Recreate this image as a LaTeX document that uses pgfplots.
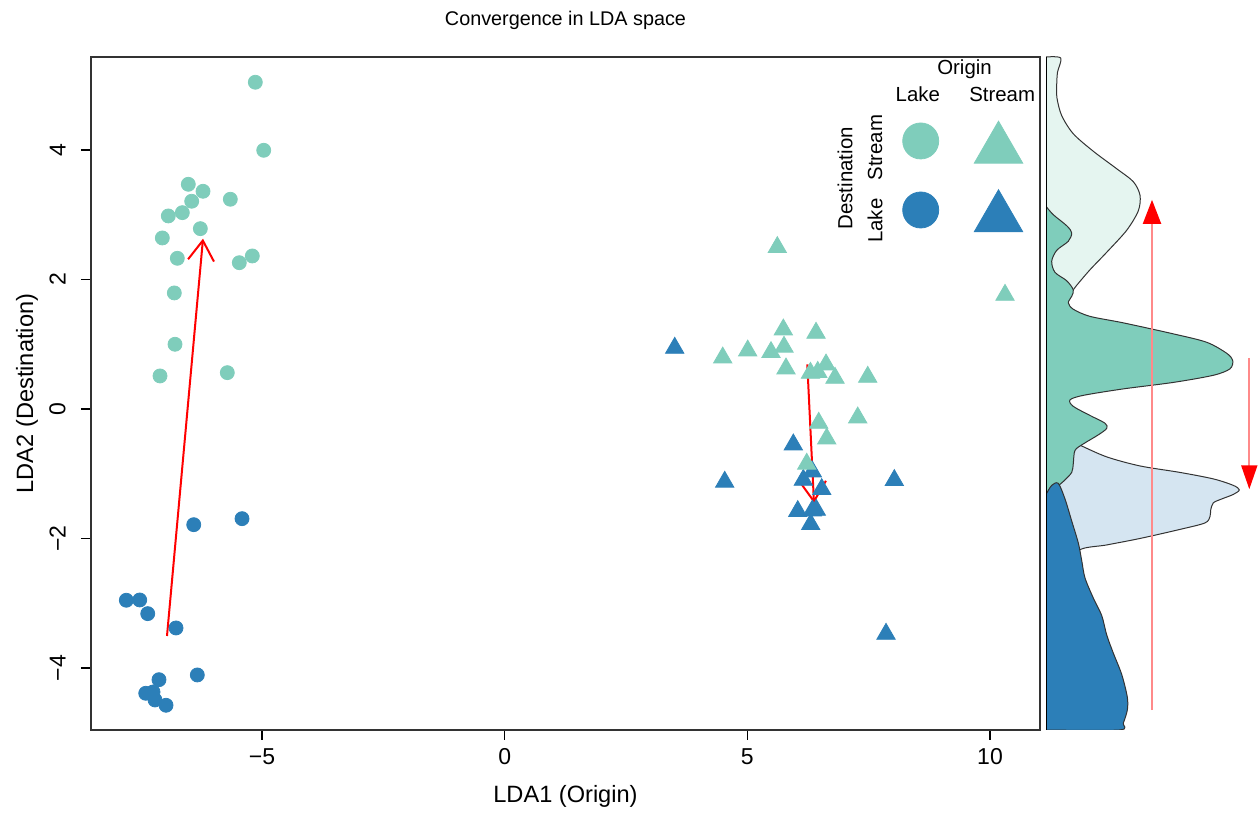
\documentclass[border=0pt]{standalone}
\usepackage{fontspec}
\setmainfont{Liberation Sans}
\usepackage{pgfplots}
\pgfplotsset{compat=1.18}
\usetikzlibrary{arrows.meta}
\definecolor{lteal}{HTML}{7FCDBB}
\definecolor{dblue}{HTML}{2C7FB8}
\definecolor{pteal}{HTML}{E5F5F0}
\definecolor{pblue}{HTML}{D5E5F1}
\definecolor{lred}{HTML}{FF8A8A}
\begin{document}
\begin{tikzpicture}
\useasboundingbox (-45.5pt,-41.5pt) rectangle (583.5pt,365pt);
\begin{axis}[
  at={(0,0)}, anchor=south west, scale only axis,
  width=474.5pt, height=336.5pt,
  xmin=-8.525, xmax=11.03, ymin=-4.958, ymax=5.436,
  xtick={-5,0,5,10}, xticklabels={−5,0,5,10},
  ytick={-4,-2,0,2,4}, yticklabels={−4,−2,0,2,4},
  tick align=outside, major tick length=5pt,
  xtick pos=bottom, ytick pos=left,
  tick style={black, line width=0.6pt},
  axis line style={line width=0.7pt, black!80},
  xticklabel style={anchor=north, inner sep=0pt, font=\fontsize{11.5}{13}\selectfont},
  yticklabel style={rotate=90, anchor=south, inner sep=0pt, font=\fontsize{11.5}{13}\selectfont},
  xticklabel shift=4.25pt, yticklabel shift=7.5pt,
  xlabel={LDA1 (Origin)}, ylabel={LDA2 (Destination)},
  xlabel style={at={(axis description cs:0.5,0)}, anchor=center, yshift=-33pt, font=\fontsize{11.8}{14}\selectfont},
  ylabel style={at={([xshift=-32pt]axis description cs:0,0.5)}, anchor=center, font=\fontsize{11.8}{14}\selectfont},
  title={Convergence in LDA space},
  title style={at={(axis description cs:0.5,1)}, anchor=center, yshift=12.5pt, font=\fontsize{9.9}{12}\selectfont},
  clip=false,
]
% Lake origin -> Stream destination (light circles)
\addplot[only marks, mark=*, mark size=3.5pt, color=lteal] coordinates {
(-5.139,5.046) (-4.966,3.995) (-6.520,3.470) (-6.217,3.362) (-6.450,3.208) (-5.654,3.239)
(-6.643,3.032) (-6.932,2.981) (-6.272,2.785) (-7.055,2.641) (-6.746,2.327) (-5.469,2.259)
(-5.201,2.363) (-6.808,1.792) (-6.794,0.999) (-7.103,0.510) (-5.716,0.561)
};
% Lake origin -> Lake destination (dark circles)
\addplot[only marks, mark=*, mark size=3.5pt, color=dblue] coordinates {
(-6.408,-1.787) (-5.413,-1.694) (-7.797,-2.954) (-7.521,-2.950) (-7.356,-3.161) (-6.773,-3.382)
(-6.334,-4.108) (-7.124,-4.181) (-7.397,-4.391) (-7.247,-4.371) (-7.206,-4.494) (-6.979,-4.576)
};
% Stream origin -> Lake destination (dark triangles)
\addplot[only marks, mark=triangle*, mark size=5.3pt, color=dblue] coordinates {
(3.503,0.942) (5.947,-0.551) (6.338,-0.968) (6.153,-1.097) (6.532,-1.240) (4.533,-1.127)
(8.028,-1.101) (6.038,-1.580) (6.338,-1.571) (6.42,-1.56) (6.305,-1.781) (7.857,-3.475)
};
% Stream origin -> Stream destination (light triangles)
\addplot[only marks, mark=triangle*, mark size=5.3pt, color=lteal] coordinates {
(5.617,2.497) (4.492,0.792) (5.007,0.900) (5.487,0.876) (5.741,1.225) (5.755,0.958)
(6.415,1.174) (5.796,0.622) (6.30,0.556) (6.45,0.57) (6.621,0.684) (6.806,0.479)
(7.480,0.494) (6.470,-0.216) (7.274,-0.134) (6.635,-0.459) (6.223,-0.849) (10.309,1.76)
};
% arrows
\addplot[red, line width=1pt, -{Straight Barb[length=10pt, width=13pt, line width=1pt]}] coordinates {(-6.959,-3.506) (-6.217,2.630)};
\addplot[red, line width=1pt, -{Straight Barb[length=10pt, width=13pt, line width=1pt]}] coordinates {(6.235,0.690) (6.373,-1.456)};
% legend
\addplot[only marks, mark=*, mark size=9pt, color=lteal] coordinates {(8.572,4.139)};
\addplot[only marks, mark=*, mark size=9pt, color=dblue] coordinates {(8.572,3.073)};
\addplot[only marks, mark=triangle*, mark size=14pt, color=lteal] coordinates {(10.175,4.012)};
\addplot[only marks, mark=triangle*, mark size=14pt, color=dblue] coordinates {(10.175,2.953)};
\node[font=\fontsize{10.2}{12}\selectfont] at (axis cs:9.475,5.251) {Origin};
\node[font=\fontsize{10.2}{12}\selectfont] at (axis cs:8.512,4.860) {Lake};
\node[font=\fontsize{10.2}{12}\selectfont] at (axis cs:10.251,4.860) {Stream};
\node[font=\fontsize{10.2}{12}\selectfont, rotate=90] at (axis cs:7.012,3.563) {Destination};
\node[font=\fontsize{10.2}{12}\selectfont, rotate=90] at (axis cs:7.630,4.036) {Stream};
\node[font=\fontsize{10.2}{12}\selectfont, rotate=90] at (axis cs:7.630,2.907) {Lake};
\end{axis}
\begin{axis}[
  at={(477.5pt,0)}, anchor=south west, scale only axis,
  width=106pt, height=336.5pt,
  xmin=0, xmax=212, ymin=-4.958, ymax=5.436,
  axis lines=none,
]
\addplot[fill=pteal, draw=black!80, line width=0.5pt, smooth, tension=0.5] coordinates {
(0,5.436) (14.7,5.42) (11.5,5.2) (10.7,5.0) (11,4.8) (15.7,4.53) (27.3,4.25) (47.3,3.98)
(70.7,3.71) (87.3,3.51) (94,3.30) (92.3,3.06) (80.7,2.76) (60.7,2.42) (44,2.15) (30.7,1.91)
(27.3,1.84) (15,1.6) (5,1.35) (0,1.2)
} -- cycle;
\addplot[fill=pblue, draw=black!80, line width=0.5pt, smooth, tension=0.5] coordinates {
(0,-0.1) (10,-0.35) (25,-0.5) (34,-0.56) (60.7,-0.74) (94,-0.88) (134,-0.98) (167.3,-1.08)
(187.3,-1.18) (193.3,-1.25) (187.3,-1.32) (175.7,-1.39) (167.3,-1.45) (164.7,-1.56) (164,-1.66)
(159,-1.76) (134,-1.86) (94,-2.00) (60.7,-2.10) (33.3,-2.18) (20,-2.5) (10,-3.0) (0,-3.5)
} -- cycle;
\addplot[fill=lteal, draw=black!80, line width=0.5pt, smooth, tension=0.5] coordinates {
(0,3.13) (7.3,3.00) (20.7,2.83) (25.7,2.72) (22.3,2.59) (10.7,2.45) (5.7,2.28) (9,2.11)
(20.7,1.98) (27.3,1.84) (25.7,1.74) (22.3,1.64) (27.3,1.54) (44,1.43) (77.3,1.33) (127.3,1.16)
(160.7,1.03) (180.7,0.86) (186.7,0.75) (184,0.62) (167.3,0.52) (127.3,0.41) (77.3,0.31)
(37.3,0.21) (24,0.14) (27.3,0.04) (44,-0.10) (59,-0.22) (60.7,-0.30) (52.3,-0.40) (37.3,-0.54)
(29,-0.64) (27.3,-0.84) (25.7,-0.98) (17.3,-1.12) (7.3,-1.25) (0,-1.39)
} -- cycle;
\addplot[fill=dblue, draw=black!80, line width=0.5pt, smooth, tension=0.5] coordinates {
(0,-1.32) (5.7,-1.18) (12.3,-1.15) (19,-1.39) (25.7,-1.73) (32.3,-2.07) (35.7,-2.34) (39,-2.61)
(47.3,-2.92) (55.7,-3.19) (60.7,-3.49) (67.3,-3.77) (75.7,-4.10) (81.3,-4.45) (81.3,-4.65)
(77.3,-4.85) (73.3,-4.958) (0,-4.958)
} -- cycle;
\addplot[lred, line width=1pt, -{Triangle[length=12pt, width=9pt, color=red, fill=red]}] coordinates {(106,-4.65) (106,3.23)};
\addplot[lred, line width=1pt, -{Triangle[length=12pt, width=8pt, color=red, fill=red]}] coordinates {(203.3,0.79) (203.3,-1.24)};
\addplot[black, line width=0.9pt] coordinates {(0,-4.958) (0,5.436)};
\end{axis}
\end{tikzpicture}
\end{document}
